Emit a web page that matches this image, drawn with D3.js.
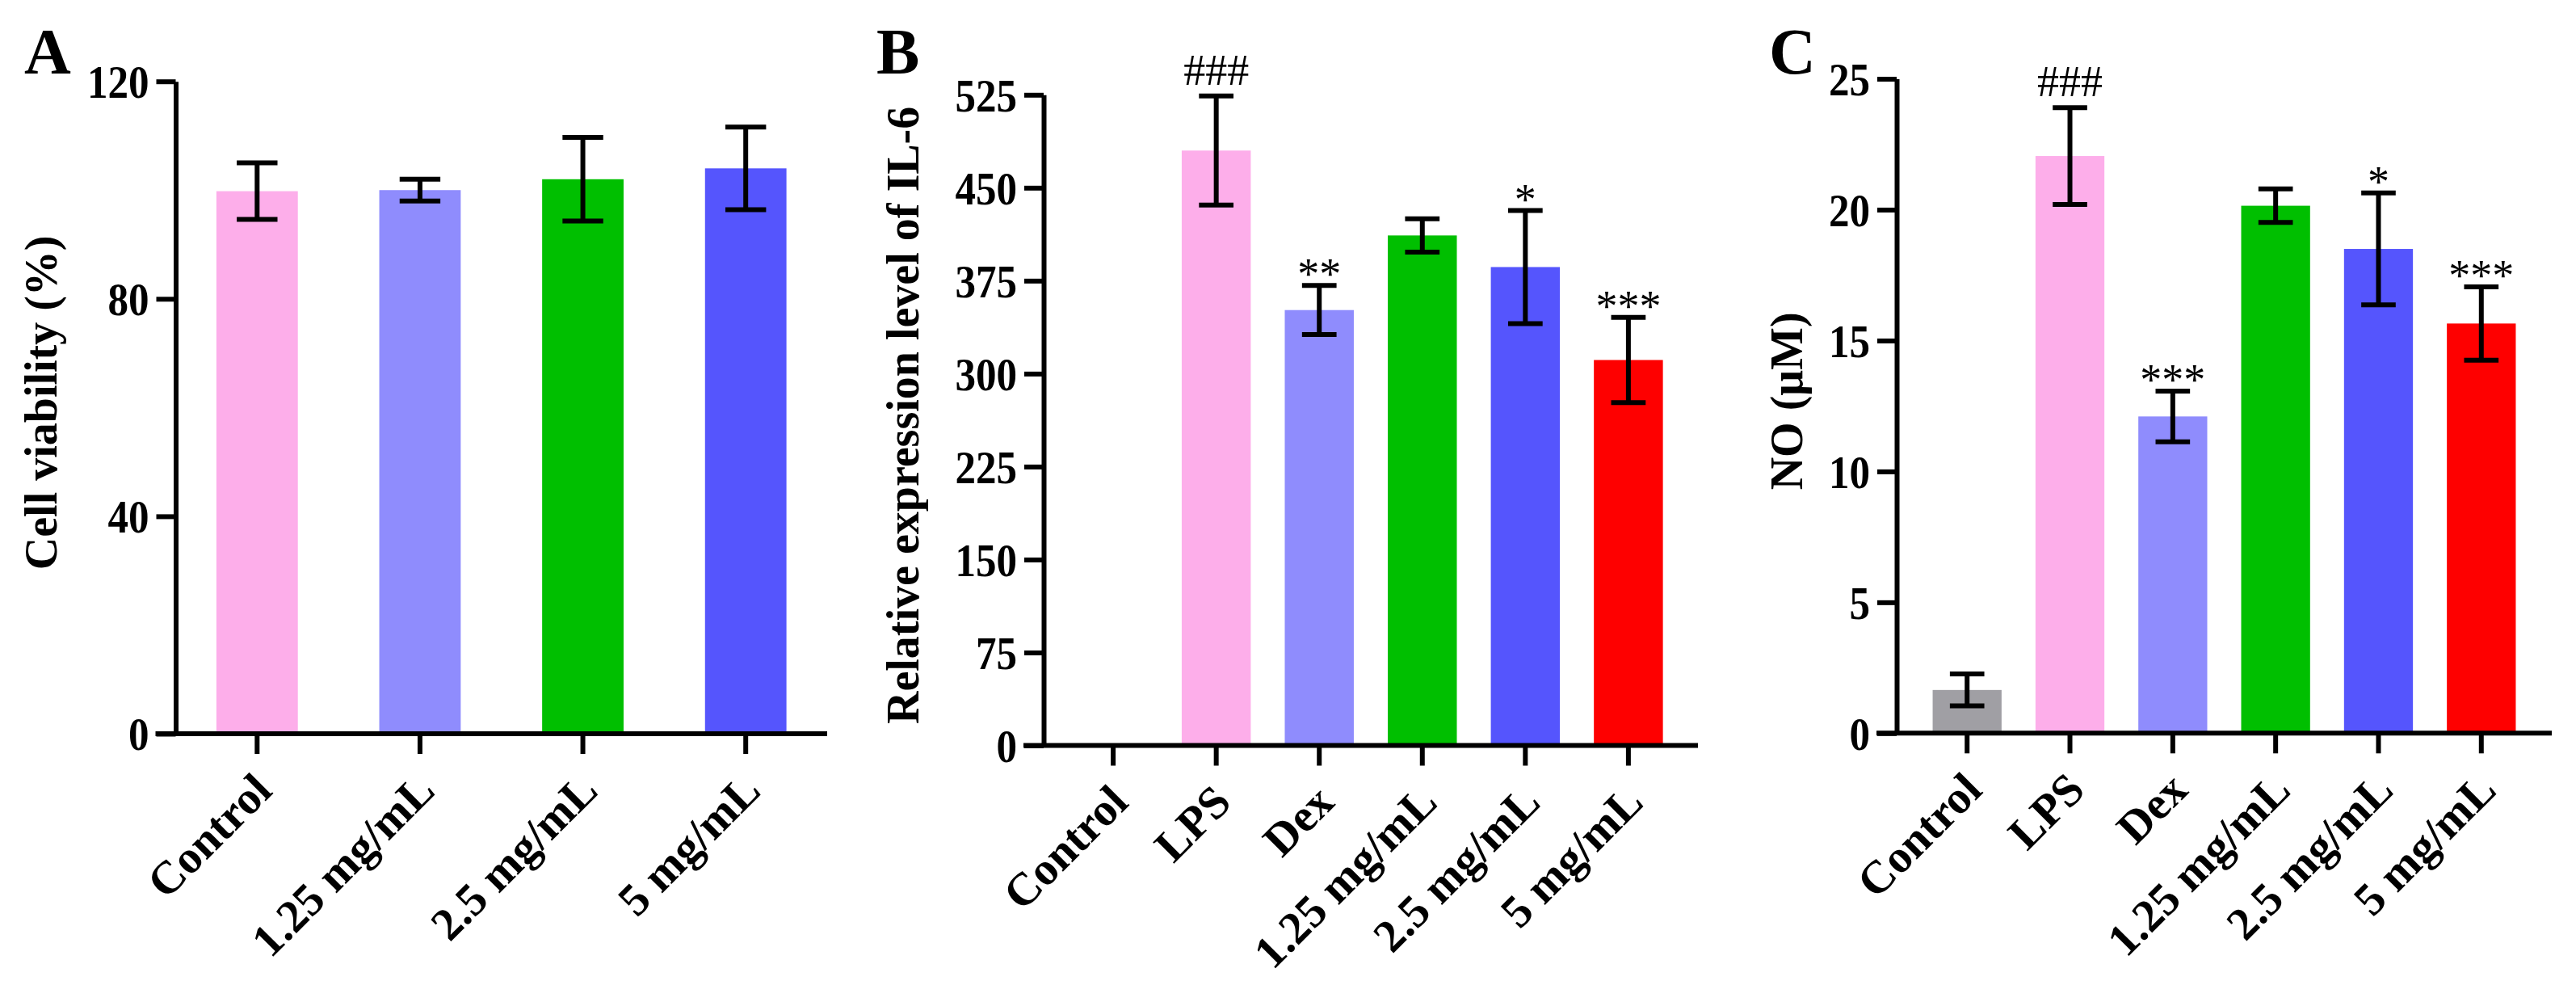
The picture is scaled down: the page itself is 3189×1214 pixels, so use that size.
<!DOCTYPE html>
<html>
<head>
<meta charset="utf-8">
<script src="https://cdn.jsdelivr.net/npm/d3@7"></script>
<style>
  html, body { margin: 0; padding: 0; background: #fff; }
  text { font-family: "Liberation Serif", "Times New Roman", serif; font-weight: bold; fill: #000; }
</style>
</head>
<body>
<svg id="chart" width="3189" height="1214"></svg>
<script>
// panel A: cell viability
var groupsA = ["Control", "1.25 mg/mL", "2.5 mg/mL", "5 mg/mL"];
var viabilityMean = [99.8, 100, 102, 104];
var viabilitySd = [5.2, 2, 7.7, 7.6];
var ticksA = [0, 40, 80, 120];

// panels B and C share the groups
var groupsBC = ["Control", "LPS", "Dex", "1.25 mg/mL", "2.5 mg/mL", "5 mg/mL"];
var il6Mean = [0, 480, 351.3, 411.5, 386, 311];
var il6Sd = [0, 44, 19.8, 13.4, 45.6, 34.4];
var il6Marks = ["", "###", "**", "", "*", "***"];
var ticksB = [0, 75, 150, 225, 300, 375, 450, 525];

var noMean = [1.65, 22.05, 12.1, 20.15, 18.5, 15.65];
var noSd = [0.61, 1.85, 0.97, 0.64, 2.14, 1.4];
var noMarks = ["", "###", "***", "", "*", "***"];
var ticksC = [0, 5, 10, 15, 20, 25];

var colorsA = ["#fdaeea", "#8f8cfd", "#00bf00", "#5555fd"];
var colorsB = ["#fdaeea", "#fdaeea", "#8f8cfd", "#00bf00", "#5555fd", "#fe0000"];
var colorsC = ["#a09fa4", "#fdaeea", "#8f8cfd", "#00bf00", "#5555fd", "#fe0000"];

var svg = d3.select("#chart");

// squeeze glyphs a little, the source figure uses narrow digits
function condense(sel, k) {
    sel.each(function () {
        var w = this.getComputedTextLength();
        d3.select(this).attr("textLength", w * k).attr("lengthAdjust", "spacingAndGlyphs");
    });
}

function drawPanel(cfg) {
    var g = svg.append("g");
    var x = d3.scaleBand()
        .domain(cfg.groups)
        .range([cfg.left, cfg.right])
        .paddingInner(cfg.padInner)
        .paddingOuter(cfg.padOuter);
    var y = d3.scaleLinear()
        .domain([0, cfg.ticks[cfg.ticks.length - 1]])
        .range([cfg.bottom, cfg.top]);
    var bw = x.bandwidth();
    var rows = cfg.groups.map(function (k, i) {
        return { key: k, mean: cfg.mean[i], sd: cfg.sd[i], mark: cfg.marks ? cfg.marks[i] : "", color: cfg.colors[i] };
    });

    // bars
    g.selectAll("rect.bar")
        .data(rows.filter(function (d) { return d.mean > 0; }))
        .enter().append("rect")
        .attr("class", "bar")
        .attr("x", function (d) { return x(d.key); })
        .attr("y", function (d) { return y(d.mean); })
        .attr("width", bw)
        .attr("height", function (d) { return y(0) - y(d.mean); })
        .attr("fill", function (d) { return d.color; });

    // error bars
    var err = g.selectAll("g.err")
        .data(rows.filter(function (d) { return d.sd > 0; }))
        .enter().append("g")
        .attr("class", "err")
        .attr("stroke", "#000")
        .attr("stroke-width", 6);
    err.append("line")
        .attr("x1", function (d) { return x(d.key) + bw / 2; })
        .attr("x2", function (d) { return x(d.key) + bw / 2; })
        .attr("y1", function (d) { return y(d.mean - d.sd); })
        .attr("y2", function (d) { return y(d.mean + d.sd); });
    [-1, 1].forEach(function (s) {
        err.append("line")
            .attr("x1", function (d) { return x(d.key) + bw / 4; })
            .attr("x2", function (d) { return x(d.key) + bw * 3 / 4; })
            .attr("y1", function (d) { return y(d.mean + s * d.sd); })
            .attr("y2", function (d) { return y(d.mean + s * d.sd); });
    });

    // significance marks
    g.selectAll("text.mark")
        .data(rows.filter(function (d) { return d.mark; }))
        .enter().append("text")
        .attr("class", "mark")
        .attr("text-anchor", "middle")
        .attr("font-size", 54)
        .attr("font-weight", "normal")
        .style("font-weight", "normal")
        .attr("x", function (d) { return x(d.key) + bw / 2; })
        .attr("y", function (d) { return y(d.mean + d.sd) - (d.mark.charAt(0) === "#" ? 14 : -4); })
        .text(function (d) { return d.mark; });

    // y axis
    var yAxis = g.append("g")
        .attr("transform", "translate(" + cfg.left + ",0)")
        .call(d3.axisLeft(y).tickValues(cfg.ticks).tickSize(24).tickSizeOuter(0).tickPadding(9));
    yAxis.select(".domain").attr("stroke-width", 6);
    yAxis.selectAll(".tick line").attr("stroke-width", 6);
    yAxis.selectAll(".tick text").attr("font-size", 58).attr("font-family", null).attr("dy", "0.34em")
        .call(condense, 0.88);

    // x axis
    var xAxis = g.append("g")
        .attr("transform", "translate(0," + cfg.bottom + ")")
        .call(d3.axisBottom(x).tickSize(25).tickSizeOuter(0));
    xAxis.select(".domain")
        .attr("d", "M" + (cfg.left - 25) + ",0H" + cfg.right)
        .attr("stroke-width", 6);
    xAxis.selectAll(".tick line").attr("stroke-width", 6);
    xAxis.selectAll(".tick text")
        .attr("font-size", 57)
        .attr("font-family", null)
        .attr("text-anchor", "end")
        .attr("dy", null)
        .attr("y", null)
        .attr("transform", "translate(21,73) rotate(-45)");

    // axis title
    g.append("text")
        .attr("text-anchor", "middle")
        .attr("font-size", 56)
        .attr("transform", "translate(" + cfg.titleX + "," + ((cfg.top + cfg.bottom) / 2 - 6) + ") rotate(-90)")
        .text(cfg.title);

    // panel letter
    g.append("text")
        .attr("font-size", 80)
        .attr("x", cfg.letterX)
        .attr("y", 91)
        .text(cfg.letter);
}

drawPanel({
    groups: groupsA, mean: viabilityMean, sd: viabilitySd, colors: colorsA, ticks: ticksA,
    left: 217.5, right: 1024, top: 100.7, bottom: 908, padInner: 0.5, padOuter: 0.25,
    title: "Cell viability (%)", titleX: 70, letter: "A", letterX: 30
});
drawPanel({
    groups: groupsBC, mean: il6Mean, sd: il6Sd, marks: il6Marks, colors: colorsB, ticks: ticksB,
    left: 1292, right: 2102, top: 117.3, bottom: 922.5, padInner: 0.33, padOuter: 0.34,
    title: "Relative expression level of IL-6", titleX: 1137, letter: "B", letterX: 1085
});
drawPanel({
    groups: groupsBC, mean: noMean, sd: noSd, marks: noMarks, colors: colorsC, ticks: ticksC,
    left: 2348, right: 3159, top: 97.5, bottom: 907.3, padInner: 0.33, padOuter: 0.35,
    title: "NO (\u03bcM)", titleX: 2231, letter: "C", letterX: 2190
});
</script>
</body>
</html>
